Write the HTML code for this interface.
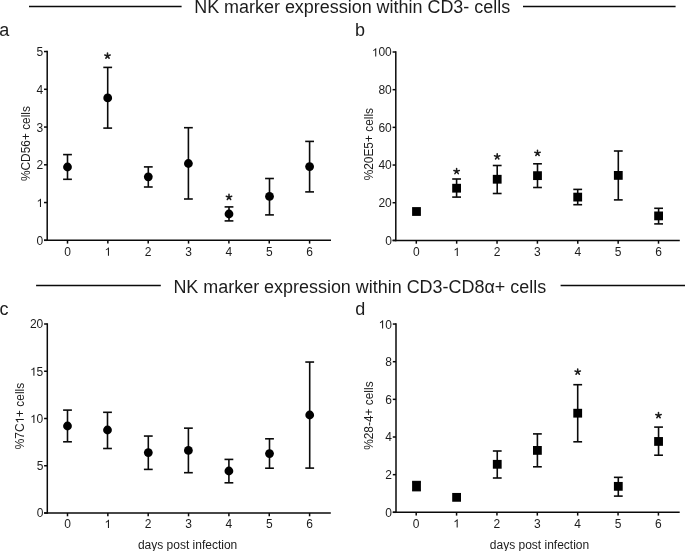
<!DOCTYPE html><html><head><meta charset="utf-8"><style>html,body{margin:0;padding:0;background:#fff;}svg{display:block;will-change:transform;}text{font-family:"Liberation Sans", sans-serif;fill:#1c1c1c;}</style></head><body>
<svg width="685" height="551" viewBox="0 0 685 551">
<text x="194.20" y="12.70" font-size="17.94" text-anchor="start" >NK marker expression within CD3- cells</text>
<text x="173.40" y="292.80" font-size="17.94" text-anchor="start" >NK marker expression within CD3-CD8&#945;+ cells</text>
<line x1="29.00" y1="6.60" x2="181.60" y2="6.60" stroke="#0a0a0a" stroke-width="1.5"/>
<line x1="523.00" y1="6.60" x2="675.60" y2="6.60" stroke="#0a0a0a" stroke-width="1.5"/>
<line x1="36.10" y1="285.40" x2="160.80" y2="285.40" stroke="#0a0a0a" stroke-width="1.5"/>
<line x1="560.60" y1="285.40" x2="685.00" y2="285.40" stroke="#0a0a0a" stroke-width="1.5"/>
<text x="-0.70" y="35.50" font-size="18" text-anchor="start" >a</text>
<text x="354.90" y="35.50" font-size="18" text-anchor="start" >b</text>
<text x="-0.50" y="314.80" font-size="18" text-anchor="start" >c</text>
<text x="355.20" y="314.80" font-size="18" text-anchor="start" >d</text>
<line x1="47.20" y1="50.80" x2="47.20" y2="241.05" stroke="#0a0a0a" stroke-width="1.5"/>
<line x1="44.00" y1="240.30" x2="331.00" y2="240.30" stroke="#0a0a0a" stroke-width="1.5"/>
<line x1="44.00" y1="240.30" x2="47.20" y2="240.30" stroke="#0a0a0a" stroke-width="1.5"/>
<text x="36.53" y="244.75" font-size="12.0" xml:space="preserve">0</text>
<line x1="44.00" y1="202.55" x2="47.20" y2="202.55" stroke="#0a0a0a" stroke-width="1.5"/>
<path fill="#1c1c1c" transform="translate(36.53,207.00) scale(0.005859,-0.005859)" d="M763 0H583V1120Q518 1060 412 1000Q307 940 223 910V1075Q374 1145 487 1243Q600 1340 647 1409H763Z"/>
<line x1="44.00" y1="164.80" x2="47.20" y2="164.80" stroke="#0a0a0a" stroke-width="1.5"/>
<text x="36.53" y="169.25" font-size="12.0" xml:space="preserve">2</text>
<line x1="44.00" y1="127.05" x2="47.20" y2="127.05" stroke="#0a0a0a" stroke-width="1.5"/>
<text x="36.53" y="131.50" font-size="12.0" xml:space="preserve">3</text>
<line x1="44.00" y1="89.30" x2="47.20" y2="89.30" stroke="#0a0a0a" stroke-width="1.5"/>
<text x="36.53" y="93.75" font-size="12.0" xml:space="preserve">4</text>
<line x1="44.00" y1="51.55" x2="47.20" y2="51.55" stroke="#0a0a0a" stroke-width="1.5"/>
<text x="36.53" y="56.00" font-size="12.0" xml:space="preserve">5</text>
<line x1="67.50" y1="240.30" x2="67.50" y2="243.60" stroke="#0a0a0a" stroke-width="1.5"/>
<text x="64.16" y="255.70" font-size="12.0" xml:space="preserve">0</text>
<line x1="107.85" y1="240.30" x2="107.85" y2="243.60" stroke="#0a0a0a" stroke-width="1.5"/>
<path fill="#1c1c1c" transform="translate(104.51,255.70) scale(0.005859,-0.005859)" d="M763 0H583V1120Q518 1060 412 1000Q307 940 223 910V1075Q374 1145 487 1243Q600 1340 647 1409H763Z"/>
<line x1="148.20" y1="240.30" x2="148.20" y2="243.60" stroke="#0a0a0a" stroke-width="1.5"/>
<text x="144.86" y="255.70" font-size="12.0" xml:space="preserve">2</text>
<line x1="188.55" y1="240.30" x2="188.55" y2="243.60" stroke="#0a0a0a" stroke-width="1.5"/>
<text x="185.21" y="255.70" font-size="12.0" xml:space="preserve">3</text>
<line x1="228.90" y1="240.30" x2="228.90" y2="243.60" stroke="#0a0a0a" stroke-width="1.5"/>
<text x="225.56" y="255.70" font-size="12.0" xml:space="preserve">4</text>
<line x1="269.25" y1="240.30" x2="269.25" y2="243.60" stroke="#0a0a0a" stroke-width="1.5"/>
<text x="265.91" y="255.70" font-size="12.0" xml:space="preserve">5</text>
<line x1="309.60" y1="240.30" x2="309.60" y2="243.60" stroke="#0a0a0a" stroke-width="1.5"/>
<text x="306.26" y="255.70" font-size="12.0" xml:space="preserve">6</text>
<g transform="translate(29.60,143.55) rotate(-90)">
<text x="-37.53" y="0" font-size="11.9" xml:space="preserve">%CD56+ cells</text>
</g>
<line x1="67.50" y1="154.60" x2="67.50" y2="179.30" stroke="#0a0a0a" stroke-width="1.6"/>
<line x1="63.10" y1="154.60" x2="71.90" y2="154.60" stroke="#0a0a0a" stroke-width="1.6"/>
<line x1="63.10" y1="179.30" x2="71.90" y2="179.30" stroke="#0a0a0a" stroke-width="1.6"/>
<circle cx="67.50" cy="167.00" r="4.4" fill="#000"/>
<line x1="107.70" y1="67.40" x2="107.70" y2="128.10" stroke="#0a0a0a" stroke-width="1.6"/>
<line x1="103.30" y1="67.40" x2="112.10" y2="67.40" stroke="#0a0a0a" stroke-width="1.6"/>
<line x1="103.30" y1="128.10" x2="112.10" y2="128.10" stroke="#0a0a0a" stroke-width="1.6"/>
<circle cx="107.70" cy="97.90" r="4.4" fill="#000"/>
<line x1="148.30" y1="166.90" x2="148.30" y2="187.00" stroke="#0a0a0a" stroke-width="1.6"/>
<line x1="143.90" y1="166.90" x2="152.70" y2="166.90" stroke="#0a0a0a" stroke-width="1.6"/>
<line x1="143.90" y1="187.00" x2="152.70" y2="187.00" stroke="#0a0a0a" stroke-width="1.6"/>
<circle cx="148.30" cy="176.80" r="4.4" fill="#000"/>
<line x1="188.40" y1="127.70" x2="188.40" y2="199.00" stroke="#0a0a0a" stroke-width="1.6"/>
<line x1="184.00" y1="127.70" x2="192.80" y2="127.70" stroke="#0a0a0a" stroke-width="1.6"/>
<line x1="184.00" y1="199.00" x2="192.80" y2="199.00" stroke="#0a0a0a" stroke-width="1.6"/>
<circle cx="188.40" cy="163.50" r="4.4" fill="#000"/>
<line x1="229.00" y1="206.90" x2="229.00" y2="220.90" stroke="#0a0a0a" stroke-width="1.6"/>
<line x1="224.60" y1="206.90" x2="233.40" y2="206.90" stroke="#0a0a0a" stroke-width="1.6"/>
<line x1="224.60" y1="220.90" x2="233.40" y2="220.90" stroke="#0a0a0a" stroke-width="1.6"/>
<circle cx="229.00" cy="214.00" r="4.4" fill="#000"/>
<line x1="269.50" y1="178.50" x2="269.50" y2="214.90" stroke="#0a0a0a" stroke-width="1.6"/>
<line x1="265.10" y1="178.50" x2="273.90" y2="178.50" stroke="#0a0a0a" stroke-width="1.6"/>
<line x1="265.10" y1="214.90" x2="273.90" y2="214.90" stroke="#0a0a0a" stroke-width="1.6"/>
<circle cx="269.50" cy="196.40" r="4.4" fill="#000"/>
<line x1="309.60" y1="141.40" x2="309.60" y2="191.90" stroke="#0a0a0a" stroke-width="1.6"/>
<line x1="305.20" y1="141.40" x2="314.00" y2="141.40" stroke="#0a0a0a" stroke-width="1.6"/>
<line x1="305.20" y1="191.90" x2="314.00" y2="191.90" stroke="#0a0a0a" stroke-width="1.6"/>
<circle cx="309.60" cy="166.60" r="4.4" fill="#000"/>
<path d="M107.50 55.92L107.50 53.07M107.50 55.92L110.21 55.04M107.50 55.92L109.18 58.23M107.50 55.92L105.82 58.23M107.50 55.92L104.79 55.04" stroke="#1c1c1c" stroke-width="1.55" stroke-linecap="round" fill="none"/>
<path d="M229.00 197.22L229.00 194.38M229.00 197.22L231.71 196.34M229.00 197.22L230.68 199.53M229.00 197.22L227.32 199.53M229.00 197.22L226.29 196.34" stroke="#1c1c1c" stroke-width="1.55" stroke-linecap="round" fill="none"/>
<line x1="395.80" y1="51.25" x2="395.80" y2="241.15" stroke="#0a0a0a" stroke-width="1.5"/>
<line x1="392.60" y1="240.40" x2="679.80" y2="240.40" stroke="#0a0a0a" stroke-width="1.5"/>
<line x1="392.60" y1="240.40" x2="395.80" y2="240.40" stroke="#0a0a0a" stroke-width="1.5"/>
<text x="385.13" y="244.85" font-size="12.0" xml:space="preserve">0</text>
<line x1="392.60" y1="202.72" x2="395.80" y2="202.72" stroke="#0a0a0a" stroke-width="1.5"/>
<text x="378.45" y="207.17" font-size="12.0" xml:space="preserve">20</text>
<line x1="392.60" y1="165.04" x2="395.80" y2="165.04" stroke="#0a0a0a" stroke-width="1.5"/>
<text x="378.45" y="169.49" font-size="12.0" xml:space="preserve">40</text>
<line x1="392.60" y1="127.36" x2="395.80" y2="127.36" stroke="#0a0a0a" stroke-width="1.5"/>
<text x="378.45" y="131.81" font-size="12.0" xml:space="preserve">60</text>
<line x1="392.60" y1="89.68" x2="395.80" y2="89.68" stroke="#0a0a0a" stroke-width="1.5"/>
<text x="378.45" y="94.13" font-size="12.0" xml:space="preserve">80</text>
<line x1="392.60" y1="52.00" x2="395.80" y2="52.00" stroke="#0a0a0a" stroke-width="1.5"/>
<text x="371.78" y="56.45" font-size="12.0" xml:space="preserve"> 00</text>
<path fill="#1c1c1c" transform="translate(371.78,56.45) scale(0.005859,-0.005859)" d="M763 0H583V1120Q518 1060 412 1000Q307 940 223 910V1075Q374 1145 487 1243Q600 1340 647 1409H763Z"/>
<line x1="416.30" y1="240.40" x2="416.30" y2="243.70" stroke="#0a0a0a" stroke-width="1.5"/>
<text x="412.96" y="255.90" font-size="12.0" xml:space="preserve">0</text>
<line x1="456.67" y1="240.40" x2="456.67" y2="243.70" stroke="#0a0a0a" stroke-width="1.5"/>
<path fill="#1c1c1c" transform="translate(453.33,255.90) scale(0.005859,-0.005859)" d="M763 0H583V1120Q518 1060 412 1000Q307 940 223 910V1075Q374 1145 487 1243Q600 1340 647 1409H763Z"/>
<line x1="497.04" y1="240.40" x2="497.04" y2="243.70" stroke="#0a0a0a" stroke-width="1.5"/>
<text x="493.70" y="255.90" font-size="12.0" xml:space="preserve">2</text>
<line x1="537.41" y1="240.40" x2="537.41" y2="243.70" stroke="#0a0a0a" stroke-width="1.5"/>
<text x="534.07" y="255.90" font-size="12.0" xml:space="preserve">3</text>
<line x1="577.78" y1="240.40" x2="577.78" y2="243.70" stroke="#0a0a0a" stroke-width="1.5"/>
<text x="574.44" y="255.90" font-size="12.0" xml:space="preserve">4</text>
<line x1="618.15" y1="240.40" x2="618.15" y2="243.70" stroke="#0a0a0a" stroke-width="1.5"/>
<text x="614.81" y="255.90" font-size="12.0" xml:space="preserve">5</text>
<line x1="658.52" y1="240.40" x2="658.52" y2="243.70" stroke="#0a0a0a" stroke-width="1.5"/>
<text x="655.18" y="255.90" font-size="12.0" xml:space="preserve">6</text>
<g transform="translate(372.90,144.15) rotate(-90)">
<text x="-36.22" y="0" font-size="11.9" xml:space="preserve">%20E5+ cells</text>
</g>
<rect x="412.10" y="207.10" width="8.8" height="8.8" fill="#000"/>
<line x1="456.60" y1="179.00" x2="456.60" y2="197.10" stroke="#0a0a0a" stroke-width="1.6"/>
<line x1="452.20" y1="179.00" x2="461.00" y2="179.00" stroke="#0a0a0a" stroke-width="1.6"/>
<line x1="452.20" y1="197.10" x2="461.00" y2="197.10" stroke="#0a0a0a" stroke-width="1.6"/>
<rect x="452.20" y="183.80" width="8.8" height="8.8" fill="#000"/>
<line x1="497.20" y1="165.50" x2="497.20" y2="193.50" stroke="#0a0a0a" stroke-width="1.6"/>
<line x1="492.80" y1="165.50" x2="501.60" y2="165.50" stroke="#0a0a0a" stroke-width="1.6"/>
<line x1="492.80" y1="193.50" x2="501.60" y2="193.50" stroke="#0a0a0a" stroke-width="1.6"/>
<rect x="492.80" y="174.85" width="8.8" height="8.8" fill="#000"/>
<line x1="537.50" y1="163.80" x2="537.50" y2="187.50" stroke="#0a0a0a" stroke-width="1.6"/>
<line x1="533.10" y1="163.80" x2="541.90" y2="163.80" stroke="#0a0a0a" stroke-width="1.6"/>
<line x1="533.10" y1="187.50" x2="541.90" y2="187.50" stroke="#0a0a0a" stroke-width="1.6"/>
<rect x="533.10" y="171.25" width="8.8" height="8.8" fill="#000"/>
<line x1="577.70" y1="189.40" x2="577.70" y2="204.70" stroke="#0a0a0a" stroke-width="1.6"/>
<line x1="573.30" y1="189.40" x2="582.10" y2="189.40" stroke="#0a0a0a" stroke-width="1.6"/>
<line x1="573.30" y1="204.70" x2="582.10" y2="204.70" stroke="#0a0a0a" stroke-width="1.6"/>
<rect x="573.30" y="192.70" width="8.8" height="8.8" fill="#000"/>
<line x1="618.30" y1="151.00" x2="618.30" y2="199.90" stroke="#0a0a0a" stroke-width="1.6"/>
<line x1="613.90" y1="151.00" x2="622.70" y2="151.00" stroke="#0a0a0a" stroke-width="1.6"/>
<line x1="613.90" y1="199.90" x2="622.70" y2="199.90" stroke="#0a0a0a" stroke-width="1.6"/>
<rect x="613.90" y="171.00" width="8.8" height="8.8" fill="#000"/>
<line x1="658.60" y1="208.30" x2="658.60" y2="223.90" stroke="#0a0a0a" stroke-width="1.6"/>
<line x1="654.20" y1="208.30" x2="663.00" y2="208.30" stroke="#0a0a0a" stroke-width="1.6"/>
<line x1="654.20" y1="223.90" x2="663.00" y2="223.90" stroke="#0a0a0a" stroke-width="1.6"/>
<rect x="654.20" y="211.50" width="8.8" height="8.8" fill="#000"/>
<path d="M456.60 171.32L456.60 168.47M456.60 171.32L459.31 170.44M456.60 171.32L458.28 173.63M456.60 171.32L454.92 173.63M456.60 171.32L453.89 170.44" stroke="#1c1c1c" stroke-width="1.55" stroke-linecap="round" fill="none"/>
<path d="M497.20 156.62L497.20 153.78M497.20 156.62L499.91 155.74M497.20 156.62L498.88 158.93M497.20 156.62L495.52 158.93M497.20 156.62L494.49 155.74" stroke="#1c1c1c" stroke-width="1.55" stroke-linecap="round" fill="none"/>
<path d="M537.50 153.12L537.50 150.28M537.50 153.12L540.21 152.24M537.50 153.12L539.18 155.43M537.50 153.12L535.82 155.43M537.50 153.12L534.79 152.24" stroke="#1c1c1c" stroke-width="1.55" stroke-linecap="round" fill="none"/>
<line x1="47.30" y1="323.25" x2="47.30" y2="513.75" stroke="#0a0a0a" stroke-width="1.5"/>
<line x1="44.10" y1="513.00" x2="330.80" y2="513.00" stroke="#0a0a0a" stroke-width="1.5"/>
<line x1="44.10" y1="513.00" x2="47.30" y2="513.00" stroke="#0a0a0a" stroke-width="1.5"/>
<text x="36.63" y="517.45" font-size="12.0" xml:space="preserve">0</text>
<line x1="44.10" y1="465.75" x2="47.30" y2="465.75" stroke="#0a0a0a" stroke-width="1.5"/>
<text x="36.63" y="470.20" font-size="12.0" xml:space="preserve">5</text>
<line x1="44.10" y1="418.50" x2="47.30" y2="418.50" stroke="#0a0a0a" stroke-width="1.5"/>
<text x="29.95" y="422.95" font-size="12.0" xml:space="preserve"> 0</text>
<path fill="#1c1c1c" transform="translate(29.95,422.95) scale(0.005859,-0.005859)" d="M763 0H583V1120Q518 1060 412 1000Q307 940 223 910V1075Q374 1145 487 1243Q600 1340 647 1409H763Z"/>
<line x1="44.10" y1="371.25" x2="47.30" y2="371.25" stroke="#0a0a0a" stroke-width="1.5"/>
<text x="29.95" y="375.70" font-size="12.0" xml:space="preserve"> 5</text>
<path fill="#1c1c1c" transform="translate(29.95,375.70) scale(0.005859,-0.005859)" d="M763 0H583V1120Q518 1060 412 1000Q307 940 223 910V1075Q374 1145 487 1243Q600 1340 647 1409H763Z"/>
<line x1="44.10" y1="324.00" x2="47.30" y2="324.00" stroke="#0a0a0a" stroke-width="1.5"/>
<text x="29.95" y="328.45" font-size="12.0" xml:space="preserve">20</text>
<line x1="67.50" y1="513.00" x2="67.50" y2="516.30" stroke="#0a0a0a" stroke-width="1.5"/>
<text x="64.16" y="528.10" font-size="12.0" xml:space="preserve">0</text>
<line x1="107.85" y1="513.00" x2="107.85" y2="516.30" stroke="#0a0a0a" stroke-width="1.5"/>
<path fill="#1c1c1c" transform="translate(104.51,528.10) scale(0.005859,-0.005859)" d="M763 0H583V1120Q518 1060 412 1000Q307 940 223 910V1075Q374 1145 487 1243Q600 1340 647 1409H763Z"/>
<line x1="148.20" y1="513.00" x2="148.20" y2="516.30" stroke="#0a0a0a" stroke-width="1.5"/>
<text x="144.86" y="528.10" font-size="12.0" xml:space="preserve">2</text>
<line x1="188.55" y1="513.00" x2="188.55" y2="516.30" stroke="#0a0a0a" stroke-width="1.5"/>
<text x="185.21" y="528.10" font-size="12.0" xml:space="preserve">3</text>
<line x1="228.90" y1="513.00" x2="228.90" y2="516.30" stroke="#0a0a0a" stroke-width="1.5"/>
<text x="225.56" y="528.10" font-size="12.0" xml:space="preserve">4</text>
<line x1="269.25" y1="513.00" x2="269.25" y2="516.30" stroke="#0a0a0a" stroke-width="1.5"/>
<text x="265.91" y="528.10" font-size="12.0" xml:space="preserve">5</text>
<line x1="309.60" y1="513.00" x2="309.60" y2="516.30" stroke="#0a0a0a" stroke-width="1.5"/>
<text x="306.26" y="528.10" font-size="12.0" xml:space="preserve">6</text>
<g transform="translate(23.80,416.05) rotate(-90)">
<text x="-33.24" y="0" font-size="11.9" xml:space="preserve">%7C + cells</text>
<path fill="#1c1c1c" transform="translate(-7.44,0) scale(0.005811,-0.005811)" d="M763 0H583V1120Q518 1060 412 1000Q307 940 223 910V1075Q374 1145 487 1243Q600 1340 647 1409H763Z"/>
</g>
<text x="187.60" y="548.50" font-size="12" text-anchor="middle" >days post infection</text>
<line x1="67.50" y1="410.10" x2="67.50" y2="441.80" stroke="#0a0a0a" stroke-width="1.6"/>
<line x1="63.10" y1="410.10" x2="71.90" y2="410.10" stroke="#0a0a0a" stroke-width="1.6"/>
<line x1="63.10" y1="441.80" x2="71.90" y2="441.80" stroke="#0a0a0a" stroke-width="1.6"/>
<circle cx="67.50" cy="426.00" r="4.4" fill="#000"/>
<line x1="107.50" y1="412.30" x2="107.50" y2="448.50" stroke="#0a0a0a" stroke-width="1.6"/>
<line x1="103.10" y1="412.30" x2="111.90" y2="412.30" stroke="#0a0a0a" stroke-width="1.6"/>
<line x1="103.10" y1="448.50" x2="111.90" y2="448.50" stroke="#0a0a0a" stroke-width="1.6"/>
<circle cx="107.50" cy="430.00" r="4.4" fill="#000"/>
<line x1="148.30" y1="436.05" x2="148.30" y2="469.40" stroke="#0a0a0a" stroke-width="1.6"/>
<line x1="143.90" y1="436.05" x2="152.70" y2="436.05" stroke="#0a0a0a" stroke-width="1.6"/>
<line x1="143.90" y1="469.40" x2="152.70" y2="469.40" stroke="#0a0a0a" stroke-width="1.6"/>
<circle cx="148.30" cy="452.60" r="4.4" fill="#000"/>
<line x1="188.40" y1="428.15" x2="188.40" y2="472.70" stroke="#0a0a0a" stroke-width="1.6"/>
<line x1="184.00" y1="428.15" x2="192.80" y2="428.15" stroke="#0a0a0a" stroke-width="1.6"/>
<line x1="184.00" y1="472.70" x2="192.80" y2="472.70" stroke="#0a0a0a" stroke-width="1.6"/>
<circle cx="188.40" cy="450.40" r="4.4" fill="#000"/>
<line x1="228.90" y1="459.40" x2="228.90" y2="482.80" stroke="#0a0a0a" stroke-width="1.6"/>
<line x1="224.50" y1="459.40" x2="233.30" y2="459.40" stroke="#0a0a0a" stroke-width="1.6"/>
<line x1="224.50" y1="482.80" x2="233.30" y2="482.80" stroke="#0a0a0a" stroke-width="1.6"/>
<circle cx="228.90" cy="471.00" r="4.4" fill="#000"/>
<line x1="269.50" y1="438.80" x2="269.50" y2="468.20" stroke="#0a0a0a" stroke-width="1.6"/>
<line x1="265.10" y1="438.80" x2="273.90" y2="438.80" stroke="#0a0a0a" stroke-width="1.6"/>
<line x1="265.10" y1="468.20" x2="273.90" y2="468.20" stroke="#0a0a0a" stroke-width="1.6"/>
<circle cx="269.50" cy="453.60" r="4.4" fill="#000"/>
<line x1="309.70" y1="362.04" x2="309.70" y2="468.10" stroke="#0a0a0a" stroke-width="1.6"/>
<line x1="305.30" y1="362.04" x2="314.10" y2="362.04" stroke="#0a0a0a" stroke-width="1.6"/>
<line x1="305.30" y1="468.10" x2="314.10" y2="468.10" stroke="#0a0a0a" stroke-width="1.6"/>
<circle cx="309.70" cy="415.00" r="4.4" fill="#000"/>
<line x1="396.00" y1="323.30" x2="396.00" y2="513.05" stroke="#0a0a0a" stroke-width="1.5"/>
<line x1="392.80" y1="512.30" x2="679.70" y2="512.30" stroke="#0a0a0a" stroke-width="1.5"/>
<line x1="392.80" y1="512.30" x2="396.00" y2="512.30" stroke="#0a0a0a" stroke-width="1.5"/>
<text x="385.33" y="516.75" font-size="12.0" xml:space="preserve">0</text>
<line x1="392.80" y1="474.65" x2="396.00" y2="474.65" stroke="#0a0a0a" stroke-width="1.5"/>
<text x="385.33" y="479.10" font-size="12.0" xml:space="preserve">2</text>
<line x1="392.80" y1="437.00" x2="396.00" y2="437.00" stroke="#0a0a0a" stroke-width="1.5"/>
<text x="385.33" y="441.45" font-size="12.0" xml:space="preserve">4</text>
<line x1="392.80" y1="399.35" x2="396.00" y2="399.35" stroke="#0a0a0a" stroke-width="1.5"/>
<text x="385.33" y="403.80" font-size="12.0" xml:space="preserve">6</text>
<line x1="392.80" y1="361.70" x2="396.00" y2="361.70" stroke="#0a0a0a" stroke-width="1.5"/>
<text x="385.33" y="366.15" font-size="12.0" xml:space="preserve">8</text>
<line x1="392.80" y1="324.05" x2="396.00" y2="324.05" stroke="#0a0a0a" stroke-width="1.5"/>
<text x="378.65" y="328.50" font-size="12.0" xml:space="preserve"> 0</text>
<path fill="#1c1c1c" transform="translate(378.65,328.50) scale(0.005859,-0.005859)" d="M763 0H583V1120Q518 1060 412 1000Q307 940 223 910V1075Q374 1145 487 1243Q600 1340 647 1409H763Z"/>
<line x1="416.20" y1="512.30" x2="416.20" y2="515.60" stroke="#0a0a0a" stroke-width="1.5"/>
<text x="412.86" y="527.60" font-size="12.0" xml:space="preserve">0</text>
<line x1="456.57" y1="512.30" x2="456.57" y2="515.60" stroke="#0a0a0a" stroke-width="1.5"/>
<path fill="#1c1c1c" transform="translate(453.23,527.60) scale(0.005859,-0.005859)" d="M763 0H583V1120Q518 1060 412 1000Q307 940 223 910V1075Q374 1145 487 1243Q600 1340 647 1409H763Z"/>
<line x1="496.94" y1="512.30" x2="496.94" y2="515.60" stroke="#0a0a0a" stroke-width="1.5"/>
<text x="493.60" y="527.60" font-size="12.0" xml:space="preserve">2</text>
<line x1="537.31" y1="512.30" x2="537.31" y2="515.60" stroke="#0a0a0a" stroke-width="1.5"/>
<text x="533.97" y="527.60" font-size="12.0" xml:space="preserve">3</text>
<line x1="577.68" y1="512.30" x2="577.68" y2="515.60" stroke="#0a0a0a" stroke-width="1.5"/>
<text x="574.34" y="527.60" font-size="12.0" xml:space="preserve">4</text>
<line x1="618.05" y1="512.30" x2="618.05" y2="515.60" stroke="#0a0a0a" stroke-width="1.5"/>
<text x="614.71" y="527.60" font-size="12.0" xml:space="preserve">5</text>
<line x1="658.42" y1="512.30" x2="658.42" y2="515.60" stroke="#0a0a0a" stroke-width="1.5"/>
<text x="655.08" y="527.60" font-size="12.0" xml:space="preserve">6</text>
<g transform="translate(372.70,415.60) rotate(-90)">
<text x="-34.23" y="0" font-size="11.9" xml:space="preserve">%28-4+ cells</text>
</g>
<text x="539.50" y="548.50" font-size="12" text-anchor="middle" >days post infection</text>
<line x1="416.50" y1="481.60" x2="416.50" y2="490.60" stroke="#0a0a0a" stroke-width="1.6"/>
<line x1="412.10" y1="481.60" x2="420.90" y2="481.60" stroke="#0a0a0a" stroke-width="1.6"/>
<line x1="412.10" y1="490.60" x2="420.90" y2="490.60" stroke="#0a0a0a" stroke-width="1.6"/>
<rect x="412.10" y="481.70" width="8.8" height="8.8" fill="#000"/>
<rect x="452.20" y="492.95" width="8.8" height="8.8" fill="#000"/>
<line x1="497.25" y1="451.00" x2="497.25" y2="478.00" stroke="#0a0a0a" stroke-width="1.6"/>
<line x1="492.85" y1="451.00" x2="501.65" y2="451.00" stroke="#0a0a0a" stroke-width="1.6"/>
<line x1="492.85" y1="478.00" x2="501.65" y2="478.00" stroke="#0a0a0a" stroke-width="1.6"/>
<rect x="492.85" y="459.90" width="8.8" height="8.8" fill="#000"/>
<line x1="537.40" y1="433.90" x2="537.40" y2="466.80" stroke="#0a0a0a" stroke-width="1.6"/>
<line x1="533.00" y1="433.90" x2="541.80" y2="433.90" stroke="#0a0a0a" stroke-width="1.6"/>
<line x1="533.00" y1="466.80" x2="541.80" y2="466.80" stroke="#0a0a0a" stroke-width="1.6"/>
<rect x="533.00" y="446.00" width="8.8" height="8.8" fill="#000"/>
<line x1="577.70" y1="384.70" x2="577.70" y2="441.80" stroke="#0a0a0a" stroke-width="1.6"/>
<line x1="573.30" y1="384.70" x2="582.10" y2="384.70" stroke="#0a0a0a" stroke-width="1.6"/>
<line x1="573.30" y1="441.80" x2="582.10" y2="441.80" stroke="#0a0a0a" stroke-width="1.6"/>
<rect x="573.30" y="408.80" width="8.8" height="8.8" fill="#000"/>
<line x1="618.30" y1="477.35" x2="618.30" y2="496.10" stroke="#0a0a0a" stroke-width="1.6"/>
<line x1="613.90" y1="477.35" x2="622.70" y2="477.35" stroke="#0a0a0a" stroke-width="1.6"/>
<line x1="613.90" y1="496.10" x2="622.70" y2="496.10" stroke="#0a0a0a" stroke-width="1.6"/>
<rect x="613.90" y="481.95" width="8.8" height="8.8" fill="#000"/>
<line x1="658.56" y1="427.10" x2="658.56" y2="455.20" stroke="#0a0a0a" stroke-width="1.6"/>
<line x1="654.16" y1="427.10" x2="662.96" y2="427.10" stroke="#0a0a0a" stroke-width="1.6"/>
<line x1="654.16" y1="455.20" x2="662.96" y2="455.20" stroke="#0a0a0a" stroke-width="1.6"/>
<rect x="654.16" y="437.05" width="8.8" height="8.8" fill="#000"/>
<path d="M577.70 371.88L577.70 369.02M577.70 371.88L580.41 370.99M577.70 371.88L579.38 374.18M577.70 371.88L576.02 374.18M577.70 371.88L574.99 370.99" stroke="#1c1c1c" stroke-width="1.55" stroke-linecap="round" fill="none"/>
<path d="M658.50 415.43L658.50 412.57M658.50 415.43L661.21 414.54M658.50 415.43L660.18 417.73M658.50 415.43L656.82 417.73M658.50 415.43L655.79 414.54" stroke="#1c1c1c" stroke-width="1.55" stroke-linecap="round" fill="none"/>
</svg></body></html>
